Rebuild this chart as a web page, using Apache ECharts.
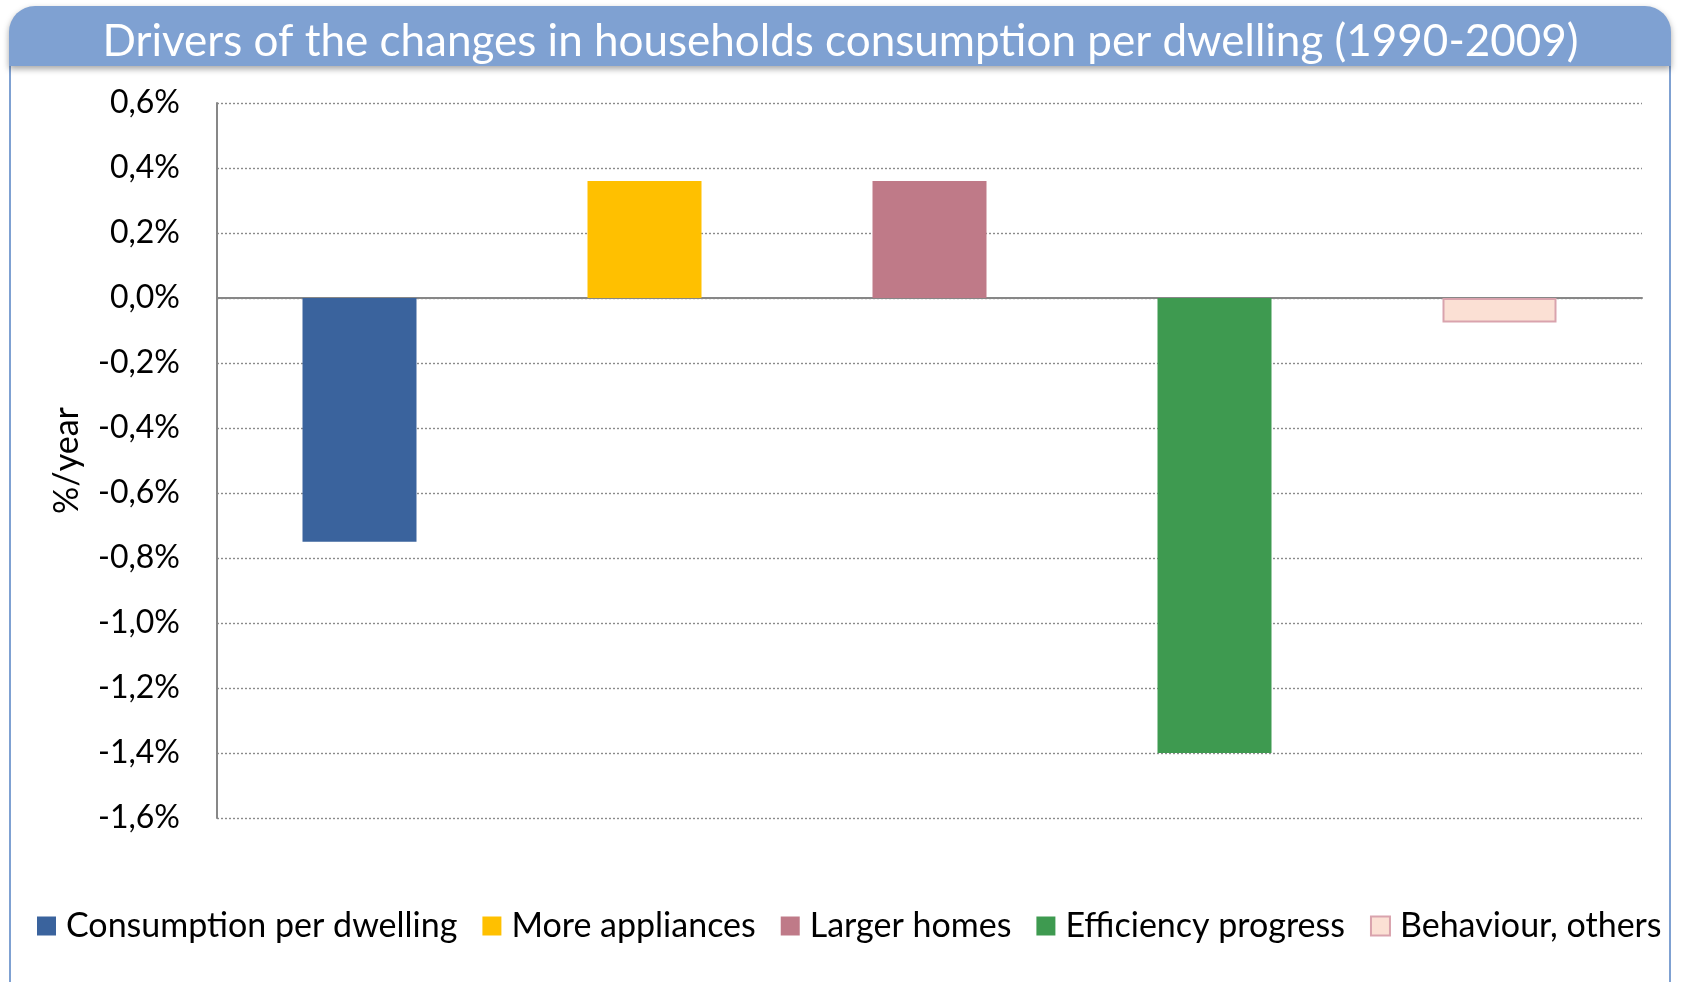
<!DOCTYPE html>
<html>
<head>
<meta charset="utf-8">
<style>
  html, body { margin: 0; padding: 0; background: #ffffff; }
  #chart { width: 1681px; height: 982px; }
</style>
<script src="https://cdn.jsdelivr.net/npm/echarts@6/dist/echarts.min.js"></script>
</head>
<body>
<div id="chart"></div>
<script>
// Drivers of household consumption change per dwelling, average %/year 1990-2009
const categories = [
  'Consumption per dwelling',
  'More appliances',
  'Larger homes',
  'Efficiency progress',
  'Behaviour, others'
];
const values = [-0.75, 0.36, 0.36, -1.40, -0.075];
const yTicks = { min: -1.6, max: 0.6, interval: 0.2 };

const fillColors = ['#3A639D', '#FFC000', '#BF7A88', '#3E9A50', '#FBE0D4'];
const borderColors = [null, null, null, null, '#D9A3AD'];

const FONT = 'Lato, "Open Sans", sans-serif';
const frameBlue = '#7FA1D2';

const chart = echarts.init(document.getElementById('chart'), null, { renderer: 'canvas' });

// one series per driver so each gets its own legend entry; stacking keeps every bar centred on its slot
const series = categories.map((name, i) => ({
  name: name,
  type: 'bar',
  stack: 'drivers',
  barWidth: '40%',
  data: categories.map((_, j) => (j === i ? values[i] : '-')),
  itemStyle: {
    color: fillColors[i],
    borderColor: borderColors[i] || fillColors[i],
    borderWidth: borderColors[i] ? 2 : 0
  },
  emphasis: { disabled: true }
}));

chart.setOption({
  animation: false,
  backgroundColor: '#ffffff',
  title: {
    text: 'Drivers of the changes in households consumption per dwelling (1990-2009)',
    left: 'center',
    top: 15,
    textStyle: { color: '#ffffff', fontSize: 44, fontWeight: 'normal', fontFamily: FONT }
  },
  graphic: [
    {
      type: 'rect',
      z: -10,
      shape: { x: 9, y: 6, width: 1662, height: 60, r: [26, 26, 0, 0] },
      style: {
        fill: frameBlue,
        shadowBlur: 6,
        shadowOffsetY: 3,
        shadowColor: 'rgba(0,0,0,0.35)'
      }
    },
    {
      type: 'line',
      z: -11,
      shape: { x1: 10, y1: 66, x2: 10, y2: 982 },
      style: { stroke: frameBlue, lineWidth: 2 }
    },
    {
      type: 'line',
      z: -11,
      shape: { x1: 1670, y1: 66, x2: 1670, y2: 982 },
      style: { stroke: frameBlue, lineWidth: 2 }
    }
  ],
  legend: {
    data: categories,
    left: 32,
    top: 904,
    icon: 'rect',
    itemWidth: 19,
    itemHeight: 19,
    itemGap: 25,
    selectedMode: false,
    textStyle: {
      color: '#000000',
      fontSize: 34,
      fontFamily: FONT,
      padding: [0, 0, 0, 5]
    }
  },
  grid: { left: 217, right: 39, top: 103, bottom: 164, containLabel: false },
  xAxis: {
    type: 'category',
    data: categories,
    axisLine: { onZero: true, lineStyle: { color: '#878787', width: 2 } },
    axisTick: { show: false },
    axisLabel: { show: false },
    splitLine: { show: false }
  },
  yAxis: {
    type: 'value',
    min: yTicks.min,
    max: yTicks.max,
    interval: yTicks.interval,
    name: '%/year',
    nameLocation: 'middle',
    nameRotate: 90,
    nameGap: 133,
    nameTextStyle: { color: '#000000', fontSize: 34, fontFamily: FONT },
    axisLine: { show: true, lineStyle: { color: '#878787', width: 2 } },
    axisTick: { show: false },
    axisLabel: {
      color: '#000000',
      fontSize: 32,
      fontFamily: FONT,
      margin: 37,
      formatter: v => (Math.abs(v) < 1e-9 ? 0 : v).toFixed(1).replace('.', ',') + '%'
    },
    splitLine: {
      show: true,
      lineStyle: { color: '#8a8a8a', width: 1.4, type: [2, 2] }
    }
  },
  series: series
});
</script>
</body>
</html>
